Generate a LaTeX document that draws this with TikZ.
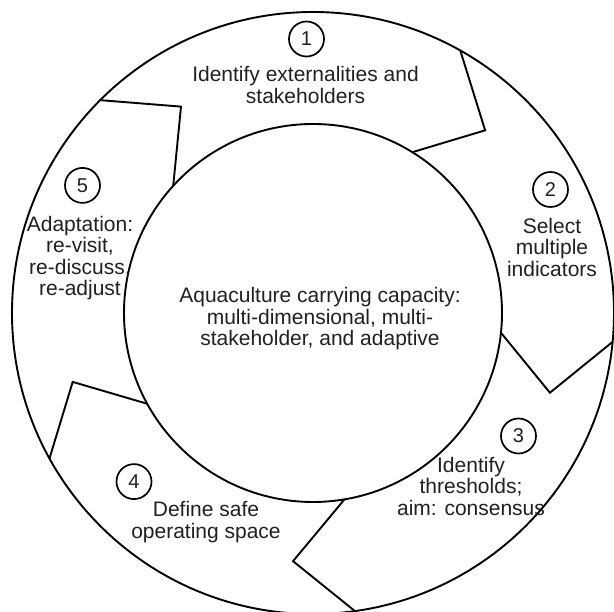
\documentclass[tikz,border=0pt]{standalone}
\usepackage{fontspec}
\setmainfont{Liberation Sans}
\definecolor{txt}{HTML}{231F20}
\begin{document}
\begin{tikzpicture}[x=1pt,y=1pt,
  ring/.style={line width=1.9pt,black,line join=miter},
  lbl/.style={align=center,text=txt,font=\fontsize{21}{21.5}\selectfont,inner sep=0pt},
  num/.style={circle,draw=black,line width=1.7pt,minimum size=35pt,inner sep=0pt,text=txt,font=\fontsize{20}{20}\selectfont}]
\useasboundingbox (-313,-299) rectangle (301,313);
\draw[ring] (0,0) circle[radius=301];
\draw[ring] (0,0) circle[radius=189];
% chevron boundaries
\draw[ring] (60.7:301) -- (46.7:251) -- (58.3:189);
\draw[ring] (-5.5:301) -- (-18.6:250) -- (-6.0:189);
\draw[ring] (-82:301) -- (-94.6:249) -- (-80.4:189);
\draw[ring] (208.9:301) -- (196:250) -- (208.7:189);
\draw[ring] (135:301) -- (122.6:245) -- (137.7:189);
% numbers
\node[num] (n1) at (-6.5,274) {1};
\node[num] (n2) at (237.5,123.5) {2};
\node[num] (n3) at (205.5,-123) {3};
\node[num] (n4) at (-179,-168.6) {4};
\node[num] (n5) at (-230.5,127.6) {5};
% labels
\node[lbl] (t1) at (-7.5,228) {Identify externalities and\\stakeholders};
\node[lbl] (t2) at (239,66) {Select\\multiple\\indicators};
\node[lbl] (t3) at (158,-173) {Identify\\thresholds;\\aim: consensus};
\node[lbl] (t4) at (-107,-209) {Define safe\\operating space};
\node[lbl] (t5) at (-233,55) {Adaptation:\\re-visit,\\re-discuss,\\re-adjust};
\node[lbl] (tc) at (7,-6) {Aquaculture carrying capacity:\\multi-dimensional, multi-\\stakeholder, and adaptive};
\end{tikzpicture}
\end{document}
